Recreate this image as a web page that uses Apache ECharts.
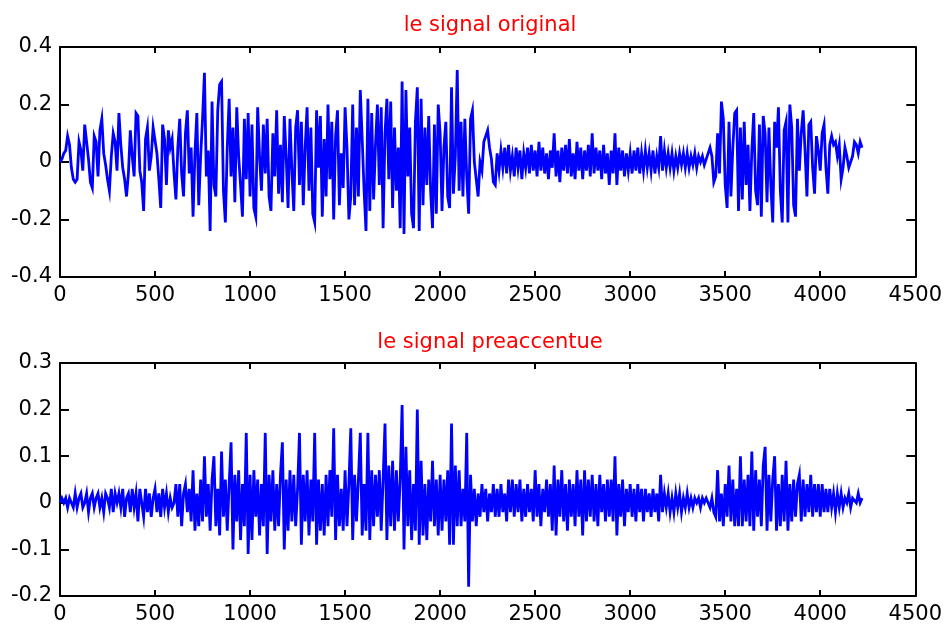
<!DOCTYPE html>
<html>
<head>
<meta charset="utf-8">
<script src="https://cdn.jsdelivr.net/npm/echarts@6/dist/echarts.min.js"></script>
<style>html,body{margin:0;padding:0;background:#fff}#c{width:945px;height:625px}</style>
</head>
<body>
<div id="c"></div>
<script>
// ---- data ----
const titleTop = 'le signal original';
const titleBottom = 'le signal preaccentue';
const sampleStep = 10; // samples between consecutive values below
const xTicks = [0, 500, 1000, 1500, 2000, 2500, 3000, 3500, 4000, 4500];
const yTicksTop = [-0.4, -0.2, 0, 0.2, 0.4];
const yTicksBottom = [-0.2, -0.1, 0, 0.1, 0.2, 0.3];

const topSignal = [
 0.00, 0.01, 0.03, 0.04, 0.09, 0.06, -0.02, -0.06, -0.07, -0.06,
 0.07, 0.04, -0.03, 0.13, 0.13, 0.01, -0.07, -0.09, 0.09, 0.07,
 -0.05, 0.11, 0.15, 0.03, -0.01, -0.06, -0.10, 0.02, 0.10, 0.07,
 -0.03, 0.17, 0.06, -0.02, -0.06, -0.12, -0.04, 0.11, 0.02, -0.05,
 0.17, 0.16, -0.03, -0.07, -0.17, 0.08, 0.12, -0.03, 0.02, 0.12,
 0.12, 0.03, -0.06, -0.16, 0.13, 0.08, -0.08, 0.11, 0.05, 0.08,
 -0.04, -0.13, 0.05, 0.15, -0.04, -0.12, 0.10, 0.18, -0.04, 0.05,
 -0.19, 0.03, 0.17, -0.15, 0.02, 0.15, 0.31, -0.05, 0.04, -0.24,
 0.21, -0.08, -0.12, 0.18, 0.27, 0.28, -0.10, -0.21, 0.05, 0.22,
 -0.05, 0.12, -0.14, 0.19, 0.02, -0.08, -0.19, 0.15, -0.06, 0.17,
 -0.12, 0.13, -0.16, -0.19, 0.19, 0.02, -0.10, 0.13, -0.04, 0.15,
 -0.12, -0.17, 0.10, -0.05, 0.18, -0.11, 0.06, -0.14, 0.16, 0.02,
 -0.16, 0.15, -0.03, -0.17, 0.12, 0.18, -0.08, 0.14, -0.15, 0.05,
 0.19, -0.10, 0.12, -0.18, -0.21, 0.18, -0.02, 0.16, -0.19, 0.08,
 -0.12, 0.20, -0.06, 0.14, -0.20, 0.09, 0.18, -0.15, 0.03, -0.09,
 0.19, 0.05, -0.20, -0.12, 0.20, -0.15, 0.12, -0.12, 0.25, 0.08,
 -0.10, -0.24, 0.22, -0.17, 0.17, -0.13, 0.06, 0.20, -0.08, 0.19,
 -0.23, 0.10, 0.22, -0.06, 0.21, -0.16, 0.12, -0.10, 0.05, -0.23,
 0.28, -0.25, 0.25, -0.05, 0.12, -0.18, -0.23, 0.14, 0.26, -0.24,
 0.22, -0.15, 0.12, -0.08, 0.16, -0.10, -0.23, 0.13, -0.18, 0.20,
 0.10, -0.17, 0.05, 0.14, -0.12, -0.16, 0.26, -0.11, 0.02, 0.32,
 -0.10, 0.14, -0.12, 0.15, -0.05, -0.18, 0.15, 0.18, 0.00, -0.06,
 -0.12, 0.00, -0.03, 0.07, 0.09, 0.11, 0.05, 0.01, -0.07, -0.08,
 0.03, -0.03, 0.04, -0.02, 0.05, -0.04, 0.06, -0.03, 0.02, -0.05,
 0.05, -0.02, 0.04, -0.06, 0.03, -0.02, 0.05, -0.04, 0.06, -0.03,
 0.04, -0.05, 0.07, -0.03, 0.05, -0.04, 0.03, -0.06, 0.04, -0.02,
 0.10, -0.05, 0.04, -0.07, 0.05, -0.03, 0.06, -0.04, 0.08, -0.05,
 0.03, -0.06, 0.07, -0.03, 0.05, -0.06, 0.04, -0.03, 0.06, -0.05,
 0.10, -0.04, 0.05, -0.03, 0.04, -0.06, 0.06, -0.04, 0.03, -0.08,
 0.04, -0.04, 0.10, -0.08, 0.05, -0.03, 0.04, -0.05, 0.03, -0.03,
 0.03, -0.04, 0.04, -0.03, 0.05, -0.04, 0.03, -0.03, 0.04, -0.02,
 0.03, -0.03, 0.04, -0.04, 0.02, -0.02, 0.09, -0.03, 0.04, -0.02,
 0.03, -0.02, 0.03, -0.03, 0.02, -0.02, 0.03, -0.01, 0.03, -0.02,
 0.03, -0.02, 0.02, -0.01, 0.03, -0.02, 0.02, 0.00, 0.02, -0.01,
 0.01, 0.03, 0.05, 0.02, -0.07, -0.05, 0.10, -0.04, 0.21, 0.15,
 -0.08, -0.16, 0.14, -0.12, 0.05, 0.17, 0.18, -0.17, 0.12, -0.13,
 0.14, -0.08, 0.06, -0.17, 0.04, 0.17, -0.10, -0.15, 0.13, -0.19,
 0.16, 0.10, -0.14, 0.12, -0.08, -0.21, 0.14, 0.05, 0.19, -0.10,
 -0.21, 0.11, 0.14, -0.21, 0.20, 0.12, -0.15, -0.19, 0.15, -0.03,
 0.10, 0.18, 0.04, -0.12, 0.13, 0.14, -0.02, -0.11, 0.09, 0.04,
 -0.03, 0.10, 0.13, -0.02, -0.11, 0.06, 0.09, 0.06, 0.07, 0.02,
 0.06, -0.06, -0.02, 0.05, 0.02, -0.02, -0.02, 0.02, 0.07, 0.06,
 0.03, 0.07, 0.05
];

const bottomSignal = [
 0.00, 0.01, 0.00, 0.01, -0.01, 0.01, 0.00, -0.01, 0.02, -0.01,
 0.01, 0.02, -0.01, 0.00, 0.02, -0.02, 0.01, 0.02, -0.01, 0.01,
 0.02, -0.01, 0.01, -0.02, 0.02, 0.01, -0.01, 0.03, -0.02, 0.02,
 0.00, 0.02, -0.01, 0.03, -0.03, 0.01, 0.02, -0.02, 0.03, -0.01,
 0.02, -0.04, 0.03, 0.00, -0.03, 0.03, -0.02, 0.02, -0.03, 0.01,
 0.03, -0.02, 0.02, -0.03, 0.03, -0.01, 0.02, -0.02, 0.01, -0.01,
 0.00, 0.04, -0.03, 0.04, -0.05, 0.02, 0.04, -0.02, 0.03, -0.04,
 0.07, -0.06, 0.02, -0.05, 0.05, -0.04, 0.10, -0.03, 0.04, -0.06,
 0.05, 0.10, -0.05, 0.03, -0.07, 0.11, -0.03, 0.05, -0.06, 0.04,
 0.13, -0.10, 0.06, -0.04, 0.07, -0.08, 0.04, -0.05, 0.15, -0.11,
 0.06, -0.08, 0.07, -0.03, 0.05, -0.07, 0.04, -0.05, 0.15, -0.11,
 0.06, -0.04, 0.07, -0.06, 0.04, -0.05, 0.06, 0.13, -0.10, 0.05,
 -0.06, 0.07, -0.04, 0.06, -0.05, 0.03, 0.15, -0.09, 0.06, -0.04,
 0.07, -0.07, 0.05, -0.04, 0.15, -0.09, 0.05, -0.06, 0.04, -0.07,
 0.06, -0.05, 0.07, -0.03, 0.16, -0.08, 0.06, -0.05, 0.03, -0.06,
 0.07, -0.05, 0.04, 0.16, -0.08, 0.06, -0.04, 0.05, 0.15, -0.07,
 0.04, -0.06, 0.15, -0.08, 0.07, -0.05, 0.06, -0.03, 0.07, -0.06,
 0.05, 0.17, -0.08, 0.08, -0.05, 0.09, -0.06, 0.07, -0.04, 0.05,
 0.21, -0.10, 0.12, -0.05, 0.07, -0.08, 0.04, -0.06, 0.20, -0.09,
 0.09, -0.07, 0.04, -0.08, 0.05, -0.04, 0.09, -0.05, 0.05, -0.07,
 0.06, -0.06, 0.05, -0.04, 0.07, -0.09, 0.17, -0.09, 0.08, -0.05,
 0.07, -0.05, 0.03, -0.04, 0.15, -0.18, 0.06, -0.04, 0.03, -0.05,
 0.02, -0.03, 0.04, -0.02, 0.03, -0.04, 0.02, -0.02, 0.04, -0.03,
 0.03, -0.03, 0.04, -0.02, 0.02, -0.04, 0.05, -0.02, 0.05, -0.03,
 0.04, -0.02, 0.05, -0.04, 0.03, -0.03, 0.04, -0.02, 0.03, -0.04,
 0.07, -0.03, 0.04, -0.05, 0.03, -0.02, 0.05, -0.03, 0.04, -0.06,
 0.08, -0.07, 0.05, -0.03, 0.07, -0.04, 0.04, -0.06, 0.05, -0.03,
 0.04, -0.05, 0.07, -0.03, 0.05, -0.07, 0.07, -0.04, 0.05, -0.03,
 0.06, -0.04, 0.04, -0.05, 0.06, -0.02, 0.04, -0.04, 0.05, -0.03,
 0.05, -0.04, 0.10, -0.07, 0.04, -0.03, 0.05, -0.05, 0.03, -0.02,
 0.04, -0.03, 0.03, -0.04, 0.04, -0.02, 0.03, -0.04, 0.03, -0.02,
 0.02, -0.03, 0.03, -0.02, 0.02, -0.04, 0.06, -0.02, 0.02, -0.01,
 0.02, -0.02, 0.01, -0.02, 0.02, -0.01, 0.02, -0.02, 0.01, -0.01,
 0.02, -0.01, 0.01, -0.01, 0.01, 0.00, 0.01, -0.01, 0.01, 0.00,
 0.01, 0.00, -0.01, 0.01, -0.02, -0.03, 0.07, -0.04, 0.02, -0.05,
 0.04, -0.03, 0.08, -0.04, 0.05, -0.05, 0.03, -0.05, 0.10, -0.05,
 0.05, -0.04, 0.06, -0.05, 0.11, -0.06, 0.07, -0.03, 0.05, -0.05,
 0.08, 0.12, -0.06, 0.06, -0.04, 0.05, 0.10, -0.06, 0.04, -0.05,
 0.06, -0.04, 0.09, -0.06, 0.04, -0.04, 0.05, -0.03, 0.04, 0.06,
 -0.04, 0.05, -0.03, 0.04, -0.02, 0.06, -0.03, 0.04, -0.02, 0.04,
 -0.03, 0.04, -0.02, 0.03, -0.02, 0.03, -0.01, 0.02, -0.02, 0.02,
 -0.01, 0.02, -0.01, 0.01, 0.00, 0.02, -0.01, 0.01, 0.01, 0.00,
 0.02, 0.00, 0.01
];

// ---- chart ----
const FONT = 'DejaVu Sans';
const fmt = v => String(parseFloat(Number(v).toFixed(2)));
function xAxes(gridIndex) {
  const base = {
    type: 'value', gridIndex,
    min: xTicks[0], max: xTicks[xTicks.length - 1], interval: xTicks[1] - xTicks[0],
    splitLine: { show: false },
    axisLine: { show: true, onZero: false, lineStyle: { color: '#000', width: 2 } },
    axisTick: { show: true, inside: true, length: 6, lineStyle: { color: '#000', width: 2 } }
  };
  return [
    Object.assign({}, base, { position: 'bottom',
      axisLabel: { show: true, color: '#000', fontFamily: FONT, fontSize: 21, margin: 8, formatter: fmt } }),
    Object.assign({}, base, { position: 'top', axisLabel: { show: false } })
  ];
}
function yAxes(gridIndex, ticks) {
  const base = {
    type: 'value', gridIndex,
    min: ticks[0], max: ticks[ticks.length - 1], interval: +(ticks[1] - ticks[0]).toFixed(3),
    splitLine: { show: false },
    axisLine: { show: true, onZero: false, lineStyle: { color: '#000', width: 2 } },
    axisTick: { show: true, inside: true, length: 9, lineStyle: { color: '#000', width: 2 } }
  };
  return [
    Object.assign({}, base, { position: 'left',
      axisLabel: { show: true, color: '#000', fontFamily: FONT, fontSize: 21, margin: 8, formatter: fmt } }),
    Object.assign({}, base, { position: 'right', axisLabel: { show: false } })
  ];
}

const chart = echarts.init(document.getElementById('c'), null, { renderer: 'canvas' });
chart.setOption({
  animation: false,
  backgroundColor: '#fff',
  title: [
    { text: titleTop, left: 485, top: 10, textAlign: 'center',
      textStyle: { color: '#ff0000', fontFamily: FONT, fontSize: 21, fontWeight: 'normal' } },
    { text: titleBottom, left: 485, top: 327, textAlign: 'center',
      textStyle: { color: '#ff0000', fontFamily: FONT, fontSize: 21, fontWeight: 'normal' } }
  ],
  grid: [
    { left: 60, top: 47, width: 856, height: 230 },
    { left: 60, top: 363, width: 856, height: 234 }
  ],
  xAxis: [...xAxes(0), ...xAxes(1)],
  yAxis: [...yAxes(0, yTicksTop), ...yAxes(1, yTicksBottom)],
  series: [
    { type: 'line', xAxisIndex: 0, yAxisIndex: 0, showSymbol: false, symbol: 'none',
      lineStyle: { color: '#0000ff', width: 2.8, join: 'miter' },
      data: topSignal.map((v, i) => [i * sampleStep, v]) },
    { type: 'line', xAxisIndex: 2, yAxisIndex: 2, showSymbol: false, symbol: 'none',
      lineStyle: { color: '#0000ff', width: 2.8, join: 'miter' },
      data: bottomSignal.map((v, i) => [i * sampleStep, v]) }
  ]
});
</script>
</body>
</html>
